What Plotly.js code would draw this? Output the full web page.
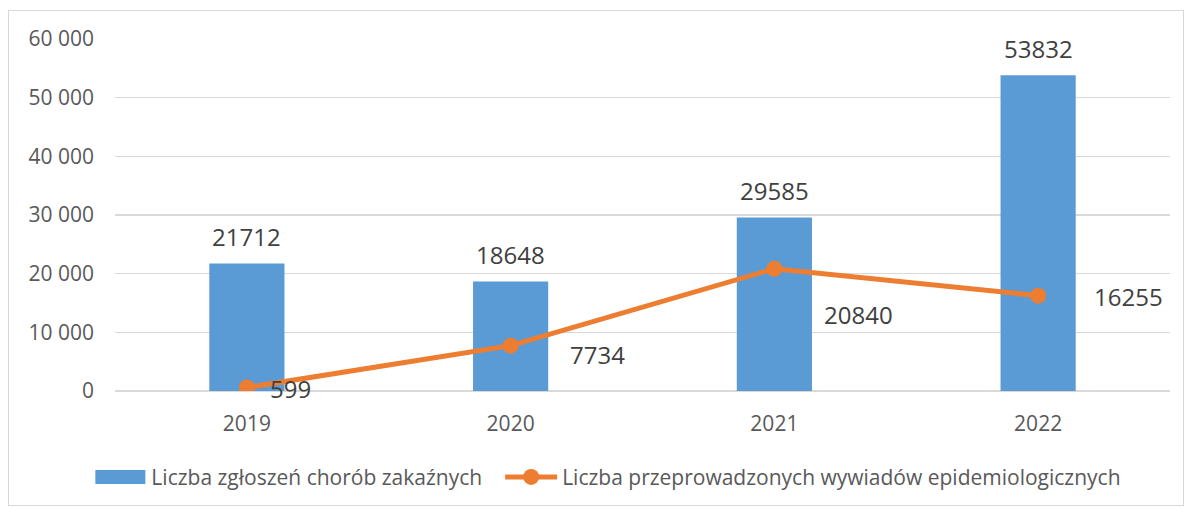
<!DOCTYPE html>
<html>
<head>
<meta charset="utf-8">
<script src="https://cdn.plot.ly/plotly-3.0.1.min.js"></script>
<style>
html,body{margin:0;padding:0;background:#fff;}
#wrap{position:absolute;left:8px;top:10px;width:1174px;height:494px;border:1px solid #d9d9d9;}
#chart{width:1174px;height:494px;}
</style>
</head>
<body>
<div id="wrap"><div id="chart"></div></div>
<script>
const years = [2019, 2020, 2021, 2022];
const yearLabels = ['2019', '2020', '2021', '2022'];
const zgloszenia = [21712, 18648, 29585, 53832];
const wywiady = [599, 7734, 20840, 16255];
const seriesNames = ['Liczba zgłoszeń chorób zakaźnych', 'Liczba przeprowadzonych wywiadów epidemiologicznych'];

const FONT = '"Open Sans", "Noto Sans", sans-serif';
const lineLabelShift = [[44, -1], [87, -9], [84, -46], [90, -1]];

const annotations = [];
years.forEach((y, i) => {
  annotations.push({x: y, y: zgloszenia[i], text: String(zgloszenia[i]), showarrow: false,
    xanchor: 'center', yanchor: 'middle', yshift: 27,
    font: {family: FONT, size: 24, color: '#404040'}});
  annotations.push({x: y, y: wywiady[i], text: String(wywiady[i]), showarrow: false,
    xanchor: 'center', yanchor: 'middle', xshift: lineLabelShift[i][0], yshift: lineLabelShift[i][1],
    font: {family: FONT, size: 24, color: '#404040'}});
});

const data = [
  {type: 'bar', x: years, y: zgloszenia, name: seriesNames[0],
   marker: {color: '#5B9BD5'}},
  {type: 'scatter', mode: 'lines+markers', x: years, y: wywiady, name: seriesNames[1],
   line: {color: '#ED7D31', width: 5}, marker: {color: '#ED7D31', size: 16}}
];

const layout = {
  width: 1174, height: 494,
  margin: {l: 106, r: 13, t: 28, b: 114, autoexpand: false},
  paper_bgcolor: '#fff', plot_bgcolor: '#fff',
  separators: ', ',
  bargap: 0.715,
  showlegend: true,
  legend: {orientation: 'h', x: -0.0243, xanchor: 'left', y: -0.245, yanchor: 'middle',
    font: {family: FONT, size: 21, color: '#595959'}, itemwidth: 52, bgcolor: 'rgba(0,0,0,0)'},
  xaxis: {type: 'linear', range: [2018.5, 2022.5], tickvals: years, ticktext: yearLabels,
    showgrid: false, showline: false, zeroline: false, ticks: '',
    tickfont: {family: FONT, size: 21, color: '#595959'}, ticklabelstandoff: 18},
  yaxis: {range: [0, 60000], dtick: 10000, tickformat: ',d', showgrid: true,
    gridcolor: '#d9d9d9', gridwidth: 1.5, zeroline: true, zerolinecolor: '#d9d9d9', zerolinewidth: 1.5,
    showline: false, ticks: '', ticklabelstandoff: 20,
    tickfont: {family: FONT, size: 21, color: '#595959'}},
  annotations: annotations
};

Plotly.newPlot('chart', data, layout, {displayModeBar: false, staticPlot: true}).then(gd => {
  gd.querySelectorAll('.legend [clip-path]').forEach(el => el.removeAttribute('clip-path'));
  const lg = gd.querySelector('.legend');
  if (lg) lg.removeAttribute('clip-path');
  const groups = gd.querySelectorAll('.legend .traces');
  if (groups[0]) {
    const p = groups[0].querySelector('.legendpoints path');
    if (p) p.setAttribute('d', 'M-25,7H25V-7H-25Z');
  }
  if (groups[1]) {
    const t = groups[1].getAttribute('transform') || '';
    const m = t.match(/translate\(\s*([-\d.]+)[ ,]+([-\d.]+)\s*\)/);
    if (m) groups[1].setAttribute('transform', 'translate(' + (parseFloat(m[1]) + 13) + ',' + m[2] + ')');
  }
});
</script>
</body>
</html>
